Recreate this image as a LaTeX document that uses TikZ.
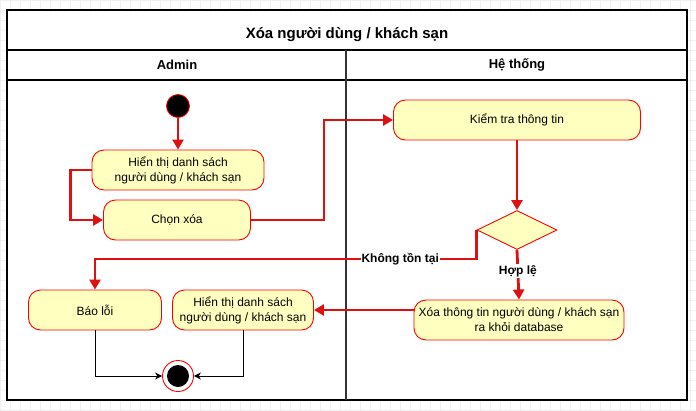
\documentclass[tikz,border=0pt]{standalone}
\usepackage{fontspec}
\setmainfont{Liberation Sans}
\usetikzlibrary{shapes.geometric,arrows.meta}
\definecolor{boxfill}{HTML}{FFFFC0}
\definecolor{lred}{HTML}{E01010}
\definecolor{gridc}{HTML}{F0F0F0}
\tikzset{
  act/.style={draw=red, fill=boxfill, rounded corners=12pt, line width=0.9pt, minimum height=40pt, align=center, font=\fontsize{12}{15}\selectfont, inner sep=2pt},
  flow/.style={draw=lred, line width=2.8pt, -{Triangle[length=10pt,width=11pt]}},
  endflow/.style={draw=black, line width=0.9pt, -{Stealth[length=7pt,width=7pt]}},
  lbl/.style={font=\fontsize{12}{14}\bfseries\selectfont, fill=white, inner sep=1pt},
}
\begin{document}
\begin{tikzpicture}[x=1pt,y=-1pt]
\useasboundingbox (0,0) rectangle (696,410);
% faint canvas grid
\draw[gridc, line width=0.6pt, step=10pt] (0,0) grid (696,410);
% frame
\path[fill=white] (7,10) rectangle (687,400);
\draw[line width=1.2pt] (7,10) rectangle (687,400);
\draw[line width=2pt] (7,50) -- (687,50);
\draw[line width=2pt] (7,80) -- (687,80);
\draw[line width=2pt, draw=black!80] (346,50) -- (346,400);
\node[font=\fontsize{15}{17}\bfseries\selectfont] (title) at (347,35) {Xóa người dùng / khách sạn};
\node[font=\fontsize{13}{15}\bfseries\selectfont] (admin) at (177,65) {Admin};
\node[font=\fontsize{13}{15}\bfseries\selectfont] (sys) at (517,65) {Hệ thống};
% nodes
\node[circle, fill=black, draw=red, line width=0.8pt, minimum size=23pt, inner sep=0pt] (start) at (178,106) {};
\node[act, minimum width=172pt] (hien1) at (178,170) {Hiển thị danh sách\\người dùng / khách sạn};
\node[act, minimum width=147pt] (chon) at (177,220) {Chọn xóa};
\node[act, minimum width=247pt] (kiem) at (517,120) {Kiểm tra thông tin};
\node[diamond, aspect=2, draw=red, fill=boxfill, line width=0.9pt, minimum width=80pt, minimum height=39pt, inner sep=0pt] (dec) at (517,230) {};
\node[act, minimum width=210pt] (xoa) at (519,320) {Xóa thông tin người dùng / khách sạn\\ra khỏi database};
\node[act, minimum width=133pt] (bao) at (95,310) {Báo lỗi};
\node[act, minimum width=141pt] (hien2) at (243,310) {Hiển thị danh sách\\người dùng / khách sạn};
\node[circle, draw=red, fill=white, line width=0.9pt, minimum size=31pt, inner sep=0pt] (stop) at (178,376) {};
\node[circle, fill=black, minimum size=22pt, inner sep=0pt] (stopin) at (stop.center) {};
% edges
\draw[flow] (start) -- (hien1);
\draw[flow] (hien1.west) -- ++(-21,0) |- (chon.west);
\draw[flow] (chon.east) -- ++(73,0) |- (kiem.west);
\draw[flow] (kiem) -- (dec);
\draw[flow] (dec.west) -- ++(0,29) -| node[lbl, pos=0.1] {Không tồn tại} (bao.north);
\draw[flow] (dec.south) -- node[lbl, pos=0.42] {Hợp lệ} (xoa.north);
\draw[flow] (xoa.west |- hien2.east) -- (hien2.east);
\draw[endflow] (bao.south) |- (stop.west);
\draw[endflow] (hien2.south) |- (stop.east);
\end{tikzpicture}
\end{document}
